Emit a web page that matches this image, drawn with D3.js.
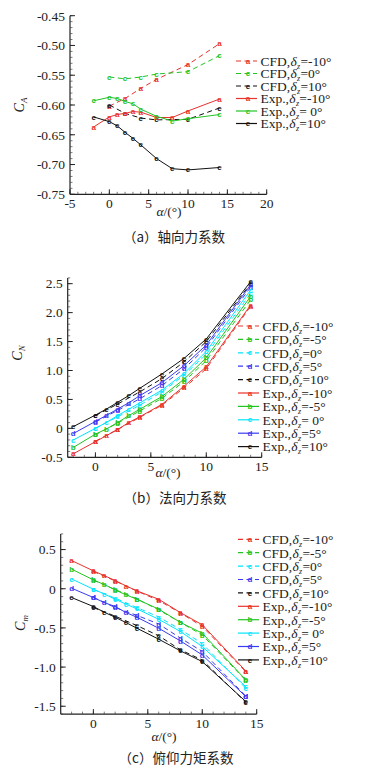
<!DOCTYPE html>
<html><head><meta charset="utf-8">
<script src="https://cdnjs.cloudflare.com/ajax/libs/d3/7.8.5/d3.min.js"></script>
<style>
html,body{margin:0;padding:0;background:#fff;}
svg{display:block;}
</style></head>
<body>
<svg id="c" width="373" height="771" font-family="'Liberation Serif','Times New Roman',serif"></svg>
<script>
// ---------------- DATA ----------------
const alphaExp = [-2, 0, 1, 2, 3, 4, 6, 8, 10, 14];
const alphaCfdA = [0, 2, 4, 6, 10, 14];
const alphaCfd = [0, 2, 4, 6, 8, 10, 14];

// (a) axial force coefficient
const cfdA_m10 = [-0.602, -0.589, -0.572, -0.557, -0.532, -0.497];
const cfdA_0   = [-0.553, -0.556, -0.553, -0.548, -0.544, -0.517];
const cfdA_10  = [-0.600, -0.614, -0.622, -0.625, -0.624, -0.605];
const expA_m10 = [-0.637, -0.620, -0.616, -0.614, -0.611, -0.612, -0.621, -0.621, -0.610, -0.590];
const expA_0   = [-0.593, -0.587, -0.589, -0.594, -0.598, -0.607, -0.619, -0.627, -0.623, -0.616];
const expA_10  = [-0.620, -0.628, -0.635, -0.646, -0.656, -0.667, -0.690, -0.707, -0.709, -0.705];

// (b) normal force coefficient
const cfdN_m10 = [-0.22, -0.02, 0.19, 0.40, 0.70, 1.03, 2.11];
const cfdN_m5  = [-0.11, 0.09, 0.30, 0.52, 0.81, 1.17, 2.22];
const cfdN_0   = [0.00, 0.20, 0.40, 0.63, 0.92, 1.28, 2.33];
const cfdN_5   = [0.11, 0.31, 0.51, 0.74, 1.03, 1.40, 2.44];
const cfdN_10  = [0.22, 0.42, 0.63, 0.86, 1.15, 1.50, 2.50];
const expN_m10 = [-0.44, -0.23, -0.125, -0.02, 0.10, 0.20, 0.415, 0.73, 1.065, 2.13];
const expN_m5  = [-0.33, -0.10, -0.01, 0.10, 0.22, 0.33, 0.55, 0.85, 1.22, 2.28];
const expN_0   = [-0.20, 0.00, 0.104, 0.22, 0.33, 0.44, 0.66, 0.95, 1.33, 2.39];
const expN_5   = [-0.09, 0.12, 0.225, 0.334, 0.44, 0.565, 0.79, 1.085, 1.44, 2.48];
const expN_10  = [0.03, 0.23, 0.334, 0.45, 0.565, 0.692, 0.94, 1.21, 1.544, 2.535];

// (c) pitching moment coefficient
const cfdM_m10 = [0.22, 0.10, -0.03, -0.15, -0.31, -0.48, -1.06];
const cfdM_m5  = [0.11, -0.01, -0.13, -0.27, -0.43, -0.59, -1.17];
const cfdM_0   = [-0.01, -0.12, -0.24, -0.36, -0.52, -0.70, -1.27];
const cfdM_5   = [-0.11, -0.24, -0.34, -0.45, -0.63, -0.80, -1.37];
const cfdM_10  = [-0.24, -0.35, -0.47, -0.60, -0.78, -0.91, -1.45];
const expM_m10 = [0.36, 0.228, 0.168, 0.105, 0.036, -0.027, -0.134, -0.305, -0.46, -1.05];
const expM_m5  = [0.25, 0.113, 0.053, -0.015, -0.078, -0.134, -0.26, -0.43, -0.567, -1.163];
const expM_0   = [0.125, -0.006, -0.066, -0.134, -0.197, -0.257, -0.39, -0.546, -0.738, -1.25];
const expM_5   = [0.007, -0.112, -0.176, -0.227, -0.304, -0.364, -0.504, -0.666, -0.845, -1.377];
const expM_10  = [-0.112, -0.227, -0.30, -0.364, -0.432, -0.504, -0.644, -0.793, -0.93, -1.44];

const ticksXa = [-5, 0, 5, 10, 15, 20];
const ticksYa = [-0.75, -0.70, -0.65, -0.60, -0.55, -0.50, -0.45];
const ticksXb = [0, 5, 10, 15];
const ticksYb = [-0.5, 0, 0.5, 1.0, 1.5, 2.0, 2.5];
const ticksXc = [0, 5, 10, 15];
const ticksYc = [-1.5, -1.0, -0.5, 0, 0.5];

const captions = ["（a）轴向力系数", "（b）法向力系数", "（c）俯仰力矩系数"];

// --------------- STYLE ---------------
const RED = "#e8322c", GREEN = "#22c422", CYAN = "#00e6ff", BLUE = "#3a3af2", BLACK = "#111111";

const svg = d3.select("#c");

function fmtY(d, dec) {
  if (d === 0) return "0";
  return d.toFixed(dec);
}

function panel(cfg) {
  const x = d3.scaleLinear().domain(cfg.xd).range(cfg.xr);
  const y = d3.scaleLinear().domain(cfg.yd).range(cfg.yr);
  const g = svg.append("g");

  // axes lines
  g.append("line").attr("x1", cfg.xr[0]).attr("x2", cfg.xr[0]).attr("y1", cfg.yr[0]).attr("y2", cfg.yr[1]).attr("stroke", "#222").attr("stroke-width", 1.2);
  g.append("line").attr("x1", cfg.xr[0]).attr("x2", cfg.xr[1]).attr("y1", cfg.yr[0]).attr("y2", cfg.yr[0]).attr("stroke", "#222").attr("stroke-width", 1.2);

  // minor ticks
  const yMin = d3.range(Math.round(cfg.yd[0] / cfg.yMinor), Math.round(cfg.yd[1] / cfg.yMinor) + 1).map(i => i * cfg.yMinor);
  g.selectAll(null).data(yMin).enter().append("line")
    .attr("x1", cfg.xr[0]).attr("x2", cfg.xr[0] + 2.5).attr("y1", d => y(d)).attr("y2", d => y(d)).attr("stroke", "#444").attr("stroke-width", 0.7);
  const xMin = d3.range(Math.ceil(cfg.xd[0]), Math.floor(cfg.xd[1]) + 1);
  g.selectAll(null).data(xMin).enter().append("line")
    .attr("y1", cfg.yr[0]).attr("y2", cfg.yr[0] - 2.5).attr("x1", d => x(d)).attr("x2", d => x(d)).attr("stroke", "#444").attr("stroke-width", 0.7);
  // major ticks
  g.selectAll(null).data(cfg.yt).enter().append("line")
    .attr("x1", cfg.xr[0]).attr("x2", cfg.xr[0] + 5).attr("y1", d => y(d)).attr("y2", d => y(d)).attr("stroke", "#222").attr("stroke-width", 1);
  g.selectAll(null).data(cfg.xt).enter().append("line")
    .attr("y1", cfg.yr[0]).attr("y2", cfg.yr[0] - 5).attr("x1", d => x(d)).attr("x2", d => x(d)).attr("stroke", "#222").attr("stroke-width", 1);

  // tick labels
  g.selectAll(null).data(cfg.yt).enter().append("text")
    .attr("x", cfg.xr[0] - 5).attr("y", d => y(d) + 4.8).attr("text-anchor", "end")
    .attr("font-size", 13.5).attr("fill", "#222").text(d => fmtY(d, cfg.dec));
  g.selectAll(null).data(cfg.xt).enter().append("text")
    .attr("x", d => x(d)).attr("y", cfg.yr[0] + 13.5).attr("text-anchor", "middle")
    .attr("font-size", 13.5).attr("fill", "#222").text(d => d);

  // axis titles
  const xl = g.append("text").attr("x", cfg.xlab[0]).attr("y", cfg.xlab[1]).attr("text-anchor", "middle").attr("font-size", 13.5).attr("fill", "#222");
  xl.append("tspan").attr("font-style", "italic").text("α");
  xl.append("tspan").text("/(°)");
  const yl = g.append("text").attr("transform", `translate(${cfg.ylab[0]},${cfg.ylab[1]}) rotate(-90)`).attr("text-anchor", "middle").attr("font-size", 14).attr("fill", "#222");
  yl.append("tspan").attr("font-style", "italic").text("C");
  yl.append("tspan").attr("font-size", 9).attr("font-style", "italic").attr("dy", 3).text(cfg.ysub);

  // caption
  svg.append("text").attr("x", cfg.cap[0]).attr("y", cfg.cap[1]).attr("text-anchor", "middle")
    .attr("font-size", 13.5).attr("fill", "#222").attr("font-family", "'Noto Sans CJK SC',sans-serif").text(cfg.caption);

  const line = d3.line().x(d => x(d[0])).y(d => y(d[1]));
  cfg.series.forEach(s => {
    const pts = s.a.map((a, i) => [a, s.v[i]]);
    g.append("path").datum(pts).attr("d", line).attr("fill", "none")
      .attr("stroke", s.c).attr("stroke-width", 1).attr("stroke-dasharray", s.dash ? "5,3.5" : null);
    g.selectAll(null).data(pts).enter().append("text")
      .attr("x", d => x(d[0])).attr("y", d => y(d[1]) + 2.6).attr("text-anchor", "middle")
      .attr("font-size", 8).attr("font-family", "'Liberation Sans',sans-serif").attr("font-weight", "bold")
      .attr("fill", s.c).text(s.l);
  });

  // legend
  cfg.series.forEach((s, i) => {
    const ly = cfg.leg[1] + i * cfg.leg[2];
    const lx = cfg.leg[0];
    g.append("line").attr("x1", lx).attr("x2", lx + 21).attr("y1", ly).attr("y2", ly)
      .attr("stroke", s.c).attr("stroke-width", 1.2).attr("stroke-dasharray", s.dash ? "5,3.5" : null);
    g.append("text").attr("x", lx + 12).attr("y", ly + 2.6).attr("text-anchor", "middle")
      .attr("font-size", 8).attr("font-family", "'Liberation Sans',sans-serif").attr("font-weight", "bold")
      .attr("fill", s.c).text(s.l);
    // label made of consecutive pieces, each placed after the previous one
    let cx = lx + 24.5;
    const pieces = [
      {t: s.dash ? "CFD," : "Exp.,", fs: 13.5, it: false, dy: 0},
      {t: "δ", fs: 13.5, it: true, dy: 0},
      {t: "z", fs: 8, it: true, dy: 3},
      {t: "=" + s.lab + "°", fs: 13.5, it: false, dy: 0}
    ];
    pieces.forEach(p => {
      const t = g.append("text").attr("x", cx).attr("y", ly + 4.8 + p.dy).attr("font-size", p.fs)
        .attr("font-style", p.it ? "italic" : null).attr("fill", "#222").attr("xml:space", "preserve")
        .style("white-space", "pre").text(p.t);
      cx += t.node().getComputedTextLength() + 0.3;
    });
  });
}

panel({
  xd: [-5, 20], xr: [70, 266.7], yd: [-0.75, -0.45], yr: [194.3, 15.7],
  xt: ticksXa, yt: ticksYa, yMinor: 0.01, dec: 2,
  xlab: [169, 216], ylab: [24, 105], ysub: "A", cap: [174, 242], caption: captions[0],
  leg: [236, 61, 12.5],
  series: [
    {c: RED, l: "a", dash: true, a: alphaCfdA, v: cfdA_m10, lab: "-10"},
    {c: GREEN, l: "c", dash: true, a: alphaCfdA, v: cfdA_0, lab: "0"},
    {c: BLACK, l: "e", dash: true, a: alphaCfdA, v: cfdA_10, lab: "10"},
    {c: RED, l: "a", dash: false, a: alphaExp, v: expA_m10, lab: "-10"},
    {c: GREEN, l: "c", dash: false, a: alphaExp, v: expA_0, lab: " 0"},
    {c: BLACK, l: "e", dash: false, a: alphaExp, v: expA_10, lab: "10"}
  ]
});

const seriesStyle = [
  {c: RED, l: "a", lab: "-10"},
  {c: GREEN, l: "b", lab: "-5"},
  {c: CYAN, l: "c", lab: "0"},
  {c: BLUE, l: "d", lab: "5"},
  {c: BLACK, l: "e", lab: "10"}
];

function build(cfdList, expList) {
  const out = [];
  cfdList.forEach((v, i) => out.push(Object.assign({}, seriesStyle[i], {dash: true, a: alphaCfd, v: v})));
  expList.forEach((v, i) => out.push(Object.assign({}, seriesStyle[i], {dash: false, a: alphaExp, v: v, lab: i === 2 ? " 0" : seriesStyle[i].lab})));
  return out;
}

panel({
  xd: [-2.5, 15], xr: [67.7, 261.7], yd: [-0.5, 2.6], yr: [457.3, 277.9],
  xt: ticksXb, yt: ticksYb, yMinor: 0.1, dec: 1,
  xlab: [168, 477], ylab: [22, 353], ysub: "N", cap: [175, 503], caption: captions[1],
  leg: [238, 326, 13.4],
  series: build([cfdN_m10, cfdN_m5, cfdN_0, cfdN_5, cfdN_10], [expN_m10, expN_m5, expN_0, expN_5, expN_10])
});

panel({
  xd: [-3, 15], xr: [60.7, 256.7], yd: [-1.6, 0.7], yr: [714.1, 533.9],
  xt: ticksXc, yt: ticksYc, yMinor: 0.1, dec: 1,
  xlab: [164, 741], ylab: [25, 623], ysub: "m", cap: [176, 763], caption: captions[2],
  leg: [238, 539.3, 13.4],
  series: build([cfdM_m10, cfdM_m5, cfdM_0, cfdM_5, cfdM_10], [expM_m10, expM_m5, expM_0, expM_5, expM_10])
});
</script>
</body></html>
